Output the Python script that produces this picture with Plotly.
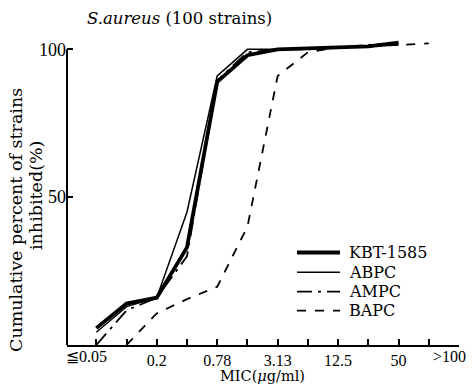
import plotly.graph_objects as go

mic = ["≦0.05", "0.1", "0.2", "0.39", "0.78", "1.56", "3.13", "6.25",
       "12.5", "25", "50", "100", ">100"]
shown_ticks = ["0.2", "0.78", "3.13", "12.5", "50"]

kbt = [5.7, 14.0, 16.0, 33.0, 89.0, 98.0, 100.0, 100.3, 100.5, 101.0, 102.3]
abpc = [4.3, 13.0, 16.0, 45.0, 91.0, 100.0, 100.0, 100.0, 100.5, 101.0, 101.5]
ampc = [0.0, 11.7, 16.0, 30.0, 89.5, 99.0, 100.0, 100.0, 100.5, 101.5, 102.0]
bapc = [0.0, 10.7, 15.5, 19.7, 40.0, 91.0, 99.0, 100.7, 101.0, 101.6, 102.0]
bapc_x = mic[1:12]

names = ["KBT-1585", "ABPC", "AMPC", "BAPC"]
widths = [3.8, 1.5, 1.8, 1.8]
dashes = ["solid", "solid", "longdashdot", "dash"]

SERIF = "DejaVu Serif"
TICKF = "Liberation Serif"

# plot-area geometry helpers (pixels -> domain fractions)
L, R, T, B, W, H = 67, 14, 39, 39, 473, 384
PW, PH = W - L - R, H - T - B
def dx(px):
    return (px - L) / PW
def dy(py):
    return (H - B - py) / PH

fig = go.Figure()
series = [(mic[:len(kbt)], kbt), (mic[:len(abpc)], abpc),
          (mic[:len(ampc)], ampc), (bapc_x, bapc)]
for (xs, ys), n, w, d in zip(series, names, widths, dashes):
    fig.add_trace(go.Scatter(x=xs, y=ys, mode="lines", name=n,
                             showlegend=False,
                             line=dict(color="black", width=w, dash=d)))

fig.update_layout(
    width=W, height=H,
    margin=dict(l=L, r=R, t=T, b=B),
    paper_bgcolor="white", plot_bgcolor="white",
    font=dict(family=TICKF, size=18, color="black"),
    showlegend=False,
    xaxis=dict(type="category", categoryorder="array", categoryarray=mic,
               range=[-0.97, 12], showline=True, linecolor="black", linewidth=2,
               ticks="inside", ticklen=6, tickwidth=1.5, tickcolor="black",
               tickvals=mic,
               ticktext=[m if m in shown_ticks else "" for m in mic],
               showgrid=False, zeroline=False,
               tickfont=dict(family=TICKF, size=16)),
    yaxis=dict(range=[0, 103.5], showline=False, ticks="inside", ticklen=6,
               tickwidth=1.5, tickcolor="black", tickvals=[50, 100],
               ticktext=["50", "100"], showgrid=False, zeroline=False,
               tickfont=dict(family=TICKF, size=18)),
)

# y axis line only spanning 0..100
fig.add_shape(type="line", xref="paper", yref="y", x0=0, x1=0, y0=0, y1=100,
              line=dict(color="black", width=2))

# end tick labels
fig.add_annotation(x=mic[0], y=0, xref="x", yref="y", text=mic[0],
                   showarrow=False, yanchor="top", xanchor="center",
                   xshift=-10, yshift=-1, font=dict(family=TICKF, size=16))
fig.add_annotation(x=mic[-1], y=0, xref="x", yref="y", text=mic[-1],
                   showarrow=False, yanchor="top", xanchor="right",
                   xshift=9, yshift=-1, font=dict(family=TICKF, size=16))

# title
fig.add_annotation(xref="x domain", yref="y domain", x=dx(85), y=dy(18),
                   text="<i>S.aureus</i> (100 strains)", showarrow=False,
                   xanchor="left", yanchor="middle",
                   font=dict(family=SERIF, size=16.5))

# axis titles
fig.add_annotation(xref="x domain", yref="y domain", x=dx(262), y=dy(376),
                   text="MIC(<i>μ</i>g/ml)", showarrow=False,
                   font=dict(family=SERIF, size=14.5),
                   xanchor="center", yanchor="middle")
fig.add_annotation(xref="x domain", yref="y domain", x=dx(16), y=dy(220),
                   text="Cumulative percent of strains",
                   textangle=-90, showarrow=False,
                   font=dict(family=SERIF, size=17.5),
                   xanchor="center", yanchor="middle")
fig.add_annotation(xref="x domain", yref="y domain", x=dx(36), y=dy(196),
                   text="inhibited(%)",
                   textangle=-90, showarrow=False,
                   font=dict(family=SERIF, size=17.5),
                   xanchor="center", yanchor="middle")

# legend drawn manually
row_y = [252.5, 272.2, 291.7, 310.7]
for n, w, d, py in zip(names, widths, dashes, row_y):
    fig.add_shape(type="line", xref="x domain", yref="y domain",
                  x0=dx(297), x1=dx(340), y0=dy(py), y1=dy(py),
                  line=dict(color="black", width=w, dash=d))
    fig.add_annotation(xref="x domain", yref="y domain", x=dx(347), y=dy(py),
                       text=n, showarrow=False, xanchor="left",
                       yanchor="middle", font=dict(family=SERIF, size=16))

fig.write_html("out.html")
